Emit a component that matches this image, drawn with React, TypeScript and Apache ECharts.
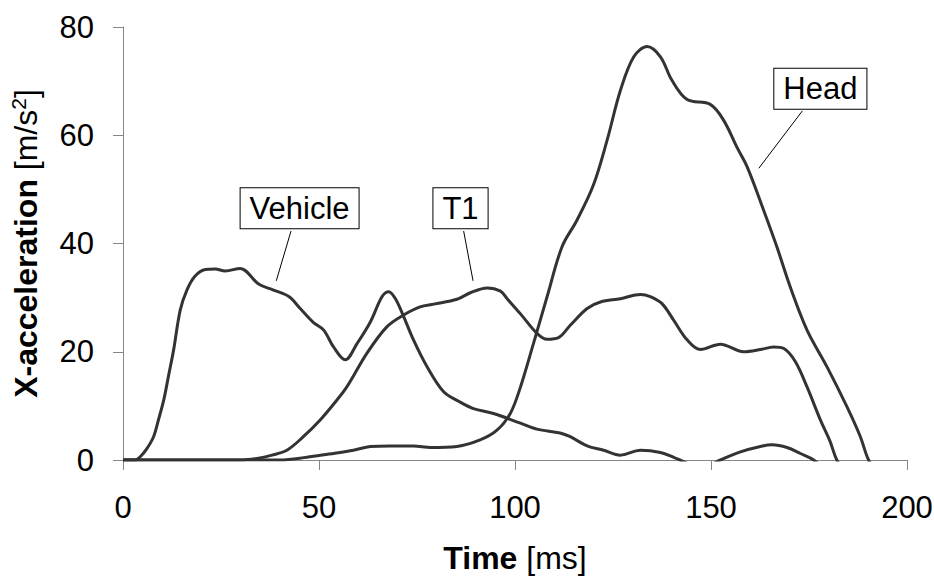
import React, { useEffect, useRef } from "react";
import * as echarts from "echarts";

// ---- Data (time in ms, acceleration in m/s^2) ----
const vehicleTime = [0, 3, 4.4, 6, 7.8, 9, 10.4, 11.6, 12.9, 14.6, 16.3, 18.4, 21, 23.5, 26.1, 29.9, 34.6, 38.4, 42.3, 45.2, 48.6, 51.2, 53.7, 56.7, 59.7, 63.1, 66.1, 67.8, 69.5, 71.6, 74.1, 77.6, 81.8, 85.5, 89.4, 94.5, 101.4, 105.6, 111.5, 114.1, 118.4, 122.6, 126.9, 132, 137.1, 140.5, 143, 147.5, 152.4, 157.5, 162.6, 165.6, 169.4, 172.8, 176.2, 180];
const vehicleAccel = [0, 0, 0.6, 2, 4.3, 7.3, 11.1, 15.5, 20.3, 27.7, 31.4, 34, 35.2, 35.3, 34.9, 35.4, 32.5, 31.4, 30.2, 28, 25.4, 24, 20.9, 18.5, 21.5, 25.5, 30.2, 31.1, 29.8, 26.5, 22.2, 17.2, 12.6, 10.9, 9.5, 8.6, 6.8, 5.7, 5, 4.3, 2.6, 1.8, 0.9, 1.8, 1.4, 0.5, -0.3, -1.5, 0, 1.5, 2.5, 2.8, 2.3, 1.2, 0, -2.5];

const t1Time = [0, 30, 34.2, 38, 41.8, 46, 50.3, 53.7, 57.1, 62.2, 67.3, 71.6, 75.8, 79.3, 85.2, 88.6, 92.9, 96.3, 98, 101.4, 105.6, 108.2, 111.1, 114.1, 118.4, 121.8, 126.9, 132, 134.5, 137.5, 140.5, 143.9, 147.3, 152.4, 158.3, 162.6, 166, 168.6, 171.5, 174.5, 177.9, 180.4, 182.1, 185];
const t1Accel = [0, 0, 0.3, 0.9, 1.8, 4.3, 7.4, 10.3, 13.5, 19.7, 24.6, 26.8, 28.3, 28.8, 29.7, 30.9, 31.8, 31.2, 29.8, 27, 23.4, 22.3, 22.6, 24.9, 28, 29.2, 29.8, 30.6, 30.2, 28.9, 25.8, 22.2, 20.4, 21.4, 20, 20.4, 20.9, 20.6, 18.2, 13.5, 7.4, 3.4, 0, -3];

const headTime = [0, 40, 46.9, 52.5, 58.8, 63.1, 68, 74.1, 78.5, 85.2, 91.1, 95.4, 98.8, 101.4, 104.7, 108.2, 112, 115.8, 120, 123.5, 126.9, 130.3, 133.7, 137.1, 140, 143.9, 149.8, 153.2, 156.6, 159.2, 163.4, 166.8, 170.2, 174.5, 179.6, 184.7, 188.1, 190.2, 193];
const headAccel = [0, 0, 0.5, 1.1, 1.8, 2.5, 2.6, 2.6, 2.3, 2.5, 3.7, 5.5, 8.6, 13.5, 21.5, 30.2, 39.4, 44.3, 50.8, 59.1, 68.3, 74.5, 76.4, 74.5, 70.2, 66.6, 65.7, 62.8, 57.8, 54.2, 46.2, 39.4, 32, 24, 17.2, 9.8, 4.3, 0, -3];

const xTicks = [0, 50, 100, 150, 200];
const yTicks = [0, 20, 40, 60, 80];

// annotation labels with box centre and leader line (data coordinates)
const annLabels = ["Vehicle", "T1", "Head"];
const annBox = [[45.05, 46.5], [86.1, 46.5], [177.9, 68.6]];
const annLineFrom = [[42.86, 42.3], [86.9, 42.3], [173.3, 64.5]];
const annLineTo = [[39.1, 33.1], [89.3, 33.1], [162.2, 53.9]];

const FONT = '"Liberation Sans", Arial, Helvetica, sans-serif';

function zip(t: number[], v: number[]) {
  return t.map((x, i) => [x, v[i]]);
}

export default function App() {
  const ref = useRef<HTMLDivElement>(null);
  useEffect(() => {
    if (!ref.current) return;
    const chart = echarts.init(ref.current, undefined, { renderer: "svg" });
    const axisColor = "#868686";
    const lineStyle = { color: "#333333", width: 3 };
    const mkSeries = (name: string, data: number[][]) => ({
      name,
      type: "line",
      data,
      smooth: 0.35,
      showSymbol: false,
      symbol: "none",
      clip: true,
      lineStyle,
    });
    chart.setOption({
      animation: false,
      backgroundColor: "#ffffff",
      grid: { left: 123, right: 27, top: 27, bottom: 116, containLabel: false, outerBoundsMode: "none" },
      xAxis: {
        type: "value",
        min: xTicks[0],
        max: xTicks[xTicks.length - 1],
        interval: 50,
        axisLine: { show: true, onZero: false, lineStyle: { color: axisColor, width: 1 } },
        axisTick: { show: true, length: 10, lineStyle: { color: axisColor } },
        splitLine: { show: false },
        axisLabel: { color: "#000", fontSize: 31, fontFamily: FONT, margin: 32 },
        name: "{b|Time}{n| [ms]}",
        nameLocation: "middle",
        nameGap: 82,
        nameTextStyle: {
          rich: {
            b: { fontSize: 32, fontWeight: "bold", fontFamily: FONT, color: "#000" },
            n: { fontSize: 32, fontFamily: FONT, color: "#000" },
          },
        },
      },
      yAxis: {
        type: "value",
        min: yTicks[0],
        max: yTicks[yTicks.length - 1],
        interval: 20,
        axisLine: { show: true, lineStyle: { color: axisColor, width: 1 } },
        axisTick: { show: true, length: 10, lineStyle: { color: axisColor } },
        splitLine: { show: false },
        axisLabel: { color: "#000", fontSize: 31, fontFamily: FONT, margin: 29 },
        name: "{b|X-acceleration}{n| [m/s}{s|2}{n|]}",
        nameLocation: "middle",
        nameRotate: 90,
        nameGap: 80,
        nameTextStyle: {
          rich: {
            b: { fontSize: 32, fontWeight: "bold", fontFamily: FONT, color: "#000" },
            n: { fontSize: 32, fontFamily: FONT, color: "#000" },
            s: { fontSize: 21, fontFamily: FONT, color: "#000", verticalAlign: "top", padding: [0, 0, 14, 0] },
          },
        },
      },
      series: [
        mkSeries("Vehicle", zip(vehicleTime, vehicleAccel)),
        mkSeries("T1", zip(t1Time, t1Accel)),
        mkSeries("Head", zip(headTime, headAccel)),
      ],
    });

    const graphics: any[] = [];
    annLabels.forEach((label, i) => {
      const from = chart.convertToPixel({ gridIndex: 0 }, annLineFrom[i]) as number[];
      const to = chart.convertToPixel({ gridIndex: 0 }, annLineTo[i]) as number[];
      const box = chart.convertToPixel({ gridIndex: 0 }, annBox[i]) as number[];
      graphics.push({
        type: "line",
        shape: { x1: from[0], y1: from[1], x2: to[0], y2: to[1] },
        style: { stroke: "#000", lineWidth: 1 },
        z: 10,
      });
      graphics.push({
        type: "text",
        x: box[0],
        y: box[1],
        z: 11,
        style: {
          text: label,
          fontSize: 31,
          fontFamily: FONT,
          fill: "#000",
          align: "center",
          verticalAlign: "middle",
          backgroundColor: "#fff",
          borderColor: "#000",
          borderWidth: 1,
          padding: [5, 9, 4, 9],
        },
      });
    });
    chart.setOption({ graphic: graphics });

    return () => chart.dispose();
  }, []);
  return (
    <div
      ref={ref}
      style={{ position: "fixed", left: 0, top: 0, width: 934, height: 576, background: "#fff" }}
    />
  );
}
